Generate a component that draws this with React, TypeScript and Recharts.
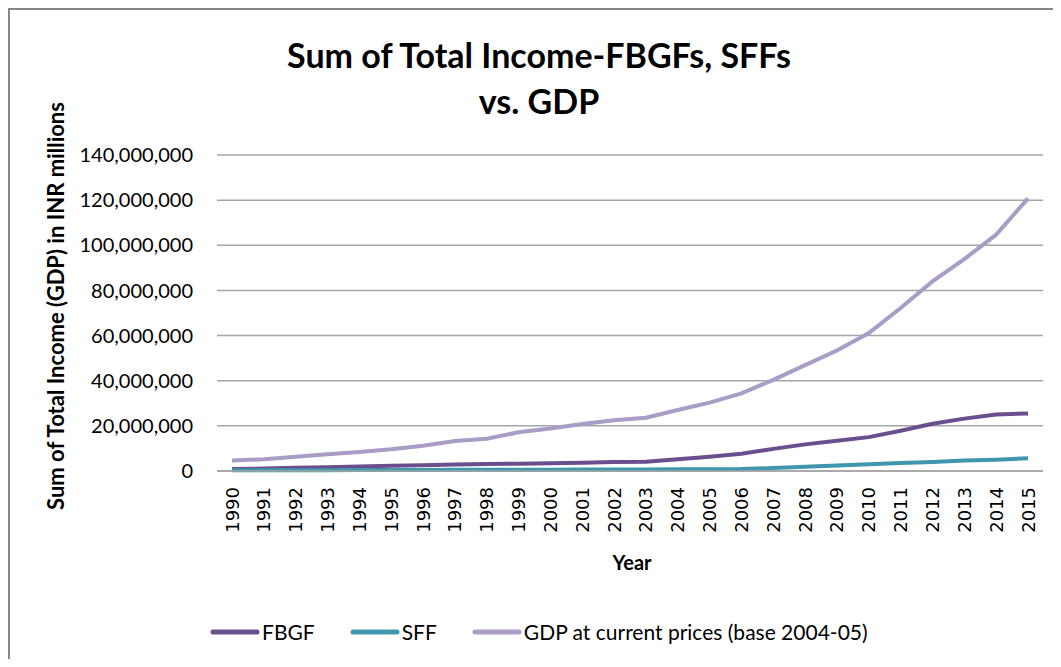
import React from 'react';
import { LineChart, Line, XAxis, YAxis, CartesianGrid } from 'recharts';

// values (INR)
const years = [
  '1990', '1991', '1992', '1993', '1994', '1995', '1996', '1997', '1998', '1999',
  '2000', '2001', '2002', '2003', '2004', '2005', '2006', '2007', '2008', '2009',
  '2010', '2011', '2012', '2013', '2014', '2015',
];
const fbgf = [
  900000, 1100000, 1400000, 1700000, 2000000, 2300000, 2600000, 2900000, 3100000, 3200000,
  3400000, 3700000, 4000000, 4100000, 5200000, 6300000, 7600000, 9800000, 11800000, 13400000,
  15000000, 17800000, 20900000, 23200000, 25000000, 25500000,
];
const sff = [
  300000, 300000, 300000, 350000, 400000, 400000, 450000, 500000, 500000, 500000,
  600000, 700000, 700000, 700000, 750000, 800000, 850000, 1300000, 1900000, 2400000,
  3000000, 3500000, 4000000, 4600000, 5000000, 5600000,
];
const gdp = [
  4600000, 5200000, 6300000, 7400000, 8400000, 9600000, 11200000, 13300000, 14300000, 17200000,
  18800000, 20800000, 22500000, 23600000, 27000000, 30300000, 34400000, 40400000, 46900000, 53400000,
  61100000, 72200000, 84000000, 93900000, 104700000, 120800000,
];
const yTicks = [0, 20000000, 40000000, 60000000, 80000000, 100000000, 120000000, 140000000];

const chartData = years.map((year, i) => ({
  year,
  fbgf: fbgf[i],
  sff: sff[i],
  gdp: gdp[i],
}));

const series = [
  { key: 'fbgf', name: 'FBGF', color: '#6b4e8d' },
  { key: 'sff', name: 'SFF', color: '#3f97ad' },
  { key: 'gdp', name: 'GDP at current prices (base 2004-05)', color: '#a99cc6' },
];

const FONT = 'Lato, "Open Sans", sans-serif';

const YearTick = (props: any) => {
  const { x, y, payload } = props;
  return (
    <text
      x={x}
      y={y}
      transform={`rotate(-90, ${x}, ${y})`}
      textAnchor="end"
      dominantBaseline="central"
      fontFamily='"DejaVu Sans", sans-serif'
      fontSize={18}
      fill="#000"
    >
      {payload.value}
    </text>
  );
};

export default function App() {
  return (
    <div style={{ position: 'relative', width: 1045, height: 651, overflow: 'hidden', background: '#fff' }}>
      <div
        style={{
          position: 'absolute',
          left: 0,
          top: 0,
          width: 1100,
          height: 720,
          border: '2px solid #878787',
          boxSizing: 'border-box',
        }}
      />
      <div
        style={{
          position: 'absolute',
          left: 0,
          top: 24,
          width: 1062,
          textAlign: 'center',
          fontFamily: FONT,
          fontWeight: 700,
          fontSize: 34,
          lineHeight: '46px',
          color: '#000',
        }}
      >
        Sum of Total Income-FBGFs, SFFs
        <br />
        vs. GDP
      </div>
      <div
        style={{
          position: 'absolute',
          left: 47,
          top: 298,
          transform: 'translate(-50%, -50%) rotate(-90deg)',
          whiteSpace: 'nowrap',
          fontFamily: FONT,
          fontWeight: 700,
          fontSize: 22,
          color: '#000',
        }}
      >
        Sum of Total Income (GDP) in INR millions
      </div>
      <div
        style={{
          position: 'absolute',
          left: 624,
          top: 554,
          transform: 'translate(-50%, -50%)',
          fontFamily: FONT,
          fontWeight: 700,
          fontSize: 20,
          color: '#000',
        }}
      >
        Year
      </div>
      <div
        style={{
          position: 'absolute',
          left: 202,
          top: 611,
          display: 'flex',
          alignItems: 'center',
          fontFamily: FONT,
          fontSize: 21,
          color: '#000',
          whiteSpace: 'nowrap',
        }}
      >
        {series.map((s) => (
          <div key={s.key} style={{ display: 'flex', alignItems: 'center', marginRight: 35 }}>
            <svg width={50} height={10} style={{ marginRight: 2 }}>
              <line x1={3} y1={5} x2={47} y2={5} stroke={s.color} strokeWidth={5} strokeLinecap="round" />
            </svg>
            <span>{s.name}</span>
          </div>
        ))}
      </div>
      <LineChart
        width={1045}
        height={651}
        data={chartData}
        margin={{ top: 147, right: 10, left: 0, bottom: 0 }}
        style={{ position: 'absolute', left: 0, top: 0 }}
      >
        <CartesianGrid vertical={false} stroke="#a5a5a5" strokeWidth={1.5} />
        <XAxis
          dataKey="year"
          axisLine={{ stroke: '#a5a5a5', strokeWidth: 1.5 }}
          tickLine={false}
          interval={0}
          height={188}
          padding={{ left: 15, right: 15 }}
          tick={<YearTick />}
          tickSize={0}
          tickMargin={16}
        />
        <YAxis
          domain={[0, 140000000]}
          ticks={yTicks}
          width={209}
          axisLine={false}
          tickLine={false}
          tickSize={0}
          tickMargin={24}
          tick={{ fill: '#000', fontSize: 20, fontFamily: FONT }}
          tickFormatter={(v: number) => v.toLocaleString('en-US')}
        />
        {series.map((s) => (
          <Line
            key={s.key}
            type="linear"
            dataKey={s.key}
            name={s.name}
            stroke={s.color}
            strokeWidth={4}
            dot={false}
            activeDot={false}
            isAnimationActive={false}
          />
        ))}
      </LineChart>
    </div>
  );
}
